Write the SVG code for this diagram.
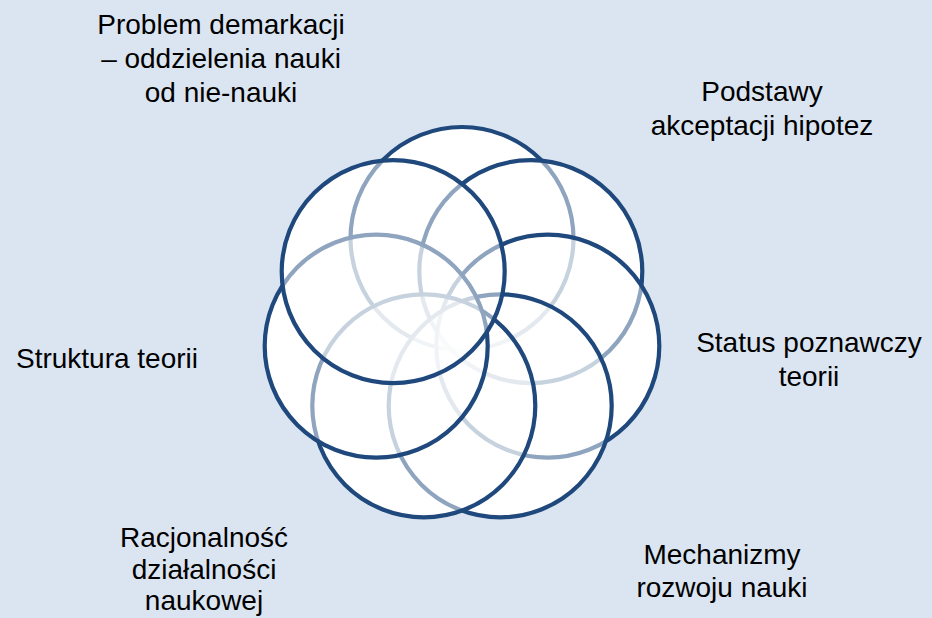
<svg xmlns="http://www.w3.org/2000/svg" width="932" height="618" viewBox="0 0 932 618">
<style>
.bg{fill:#dbe5f1}
.under{fill:#ffffff;stroke:none}
.c{fill:#ffffff;fill-opacity:0.5;stroke:#1f487c;stroke-width:4.2}
.t{font-family:"Liberation Sans",Arial,sans-serif;font-size:28px;fill:#000000;text-anchor:middle}
</style>
<rect class="bg" x="0" y="0" width="932" height="618"/>
<g id="underlay">
<circle class="under" cx="462" cy="238.5" r="111.5"/>
<circle class="under" cx="530.8" cy="271.6" r="111.5"/>
<circle class="under" cx="547.8" cy="346.1" r="111.5"/>
<circle class="under" cx="500.2" cy="405.8" r="111.5"/>
<circle class="under" cx="423.8" cy="405.8" r="111.5"/>
<circle class="under" cx="376.2" cy="346.1" r="111.5"/>
<circle class="under" cx="393.2" cy="271.6" r="111.5"/>
</g>
<g id="circle-top"><circle class="c" cx="462" cy="238.5" r="111.5"/></g>
<g id="circle-upper-right"><circle class="c" cx="530.8" cy="271.6" r="111.5"/></g>
<g id="circle-right"><circle class="c" cx="547.8" cy="346.1" r="111.5"/></g>
<g id="circle-lower-right"><circle class="c" cx="500.2" cy="405.8" r="111.5"/></g>
<g id="circle-lower-left"><circle class="c" cx="423.8" cy="405.8" r="111.5"/></g>
<g id="circle-left"><circle class="c" cx="376.2" cy="346.1" r="111.5"/></g>
<g id="circle-upper-left"><circle class="c" cx="393.2" cy="271.6" r="111.5"/></g>
<g id="label-demarkacja">
<text class="t" x="221" y="34">Problem demarkacji</text>
<text class="t" x="221" y="68">– oddzielenia nauki</text>
<text class="t" x="221" y="102">od nie-nauki</text>
</g>
<g id="label-podstawy">
<text class="t" x="762" y="101">Podstawy</text>
<text class="t" x="762" y="135">akceptacji hipotez</text>
</g>
<g id="label-status">
<text class="t" x="809" y="352">Status poznawczy</text>
<text class="t" x="809" y="386">teorii</text>
</g>
<g id="label-mechanizmy">
<text class="t" x="722" y="564">Mechanizmy</text>
<text class="t" x="722" y="597">rozwoju nauki</text>
</g>
<g id="label-racjonalnosc">
<text class="t" x="204" y="547">Racjonalność</text>
<text class="t" x="204" y="579">działalności</text>
<text class="t" x="204" y="610">naukowej</text>
</g>
<g id="label-struktura">
<text class="t" x="107" y="368">Struktura teorii</text>
</g>
</svg>
